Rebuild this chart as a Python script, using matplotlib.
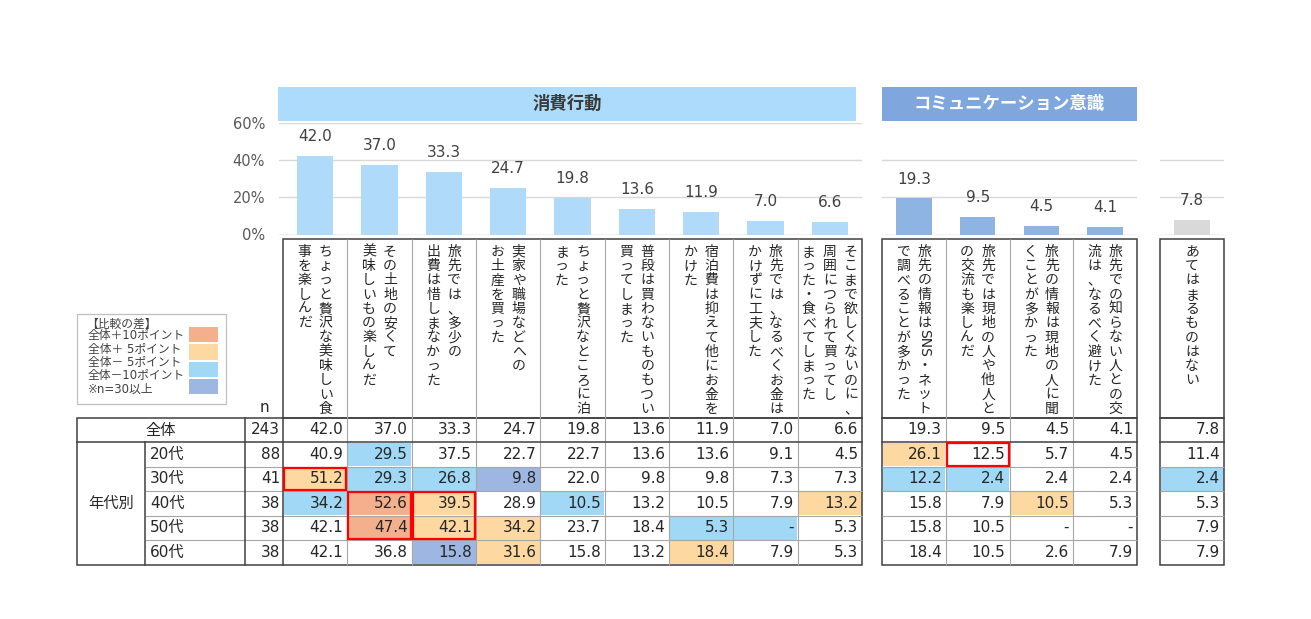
import re
import matplotlib
matplotlib.use('Agg')
import matplotlib.pyplot as plt
from matplotlib.patches import Rectangle
import numpy as np

plt.rcParams['font.family'] = ['DejaVu Sans', 'Noto Sans CJK JP']

# ---------------- DATA ----------------
section_names = ['消費行動', 'コミュニケーション意識', '']

consumer_items = [
    ['ちょっと贅沢な美味しい食', '事を楽しんだ'],
    ['その土地の安くて', '美味しいもの楽しんだ'],
    ['旅先では、多少の', '出費は惜しまなかった'],
    ['実家や職場などへの', 'お土産を買った'],
    ['ちょっと贅沢なところに泊', 'まった'],
    ['普段は買わないものもつい', '買ってしまった'],
    ['宿泊費は抑えて他にお金を', 'かけた'],
    ['旅先では、なるべくお金は', 'かけずに工夫した'],
    ['そこまで欲しくないのに、', '周囲につられて買ってし', 'まった・食べてしまった'],
]
comm_items = [
    ['旅先の情報はSNS・ネット', 'で調べることが多かった'],
    ['旅先では現地の人や他人と', 'の交流も楽しんだ'],
    ['旅先の情報は現地の人に聞', 'くことが多かった'],
    ['旅先での知らない人との交', '流は、なるべく避けた'],
]
none_items = [['あてはまるものはない']]

consumer_total = [42.0, 37.0, 33.3, 24.7, 19.8, 13.6, 11.9, 7.0, 6.6]
comm_total = [19.3, 9.5, 4.5, 4.1]
none_total = [7.8]

total_label = '全体'
group_label = '年代別'
n_total = 243
age_groups = ['20代', '30代', '40代', '50代', '60代']
n_age = [88, 41, 38, 38, 38]
# None = "-"
age_values = [
    [40.9, 29.5, 37.5, 22.7, 22.7, 13.6, 13.6, 9.1, 4.5, 26.1, 12.5, 5.7, 4.5, 11.4],
    [51.2, 29.3, 26.8, 9.8, 22.0, 9.8, 9.8, 7.3, 7.3, 12.2, 2.4, 2.4, 2.4, 2.4],
    [34.2, 52.6, 39.5, 28.9, 10.5, 13.2, 10.5, 7.9, 13.2, 15.8, 7.9, 10.5, 5.3, 5.3],
    [42.1, 47.4, 42.1, 34.2, 23.7, 18.4, 5.3, None, 5.3, 15.8, 10.5, None, None, 7.9],
    [42.1, 36.8, 15.8, 31.6, 15.8, 13.2, 18.4, 7.9, 5.3, 18.4, 10.5, 2.6, 7.9, 7.9],
]
# highlighted (red frame): (first age row, last age row, column)
red_frames = [(1, 1, 0), (2, 3, 1), (2, 3, 2), (0, 0, 10)]

legend_title = '【比較の差】'
legend_labels = ['全体＋10ポイント', '全体＋ 5ポイント', '全体－ 5ポイント', '全体－10ポイント']
legend_note = '※n=30以上'
yticks = [0, 20, 40, 60]

# ---------------- STYLE ----------------
W, H = 1311, 619
C_BAR = ['#AFDAF9', '#8DB4E2', '#D9D9D9']
C_BANNER = ['#ADDBFB', '#7FA7DE']
C_BANNER_TXT = ['#3A3A3A', 'white']
C_DIFF = {2: '#F4B08C', 1: '#FDD8A0', -1: '#A0D8F5', -2: '#9DB7E2'}
DARK = '#404040'
GRAY = '#A6A6A6'
TXT = '#262626'

fig = plt.figure(figsize=(W / 100, H / 100), dpi=100)
ov = fig.add_axes([0, 0, 1, 1])
ov.set_xlim(0, W)
ov.set_ylim(H, 0)
ov.axis('off')


def px_axes(x0, x1, y0, y1):
    a = fig.add_axes([x0 / W, 1 - y1 / H, (x1 - x0) / W, (y1 - y0) / H])
    a.patch.set_alpha(0)
    return a


# sections layout
sec_x = [(283, 862), (882, 1137), (1160, 1224)]
sec_items = [consumer_items, comm_items, none_items]
sec_tot = [consumer_total, comm_total, none_total]
col_edges = []
for (x0, x1), items in zip(sec_x, sec_items):
    col_edges.append(np.linspace(x0, x1, len(items) + 1))

Y0, Y60 = 234.5, 122.5
HDR_TOP, TBL_TOP = 238.5, 418
row_y = [418, 442, 466.5, 491, 515.5, 540, 564.5]

# ---------------- BARS ----------------
for s, ((x0, x1), items, tot) in enumerate(zip(sec_x, sec_items, sec_tot)):
    n = len(items)
    cw = (x1 - x0) / n
    ext = 4 if s == 0 else 0
    ax = px_axes(x0 - ext, x1, Y60, Y0)
    ax.set_xlim(-0.5 - ext / cw, n - 0.5)
    ax.set_ylim(0, 60)
    for sp in ax.spines.values():
        sp.set_visible(False)
    grid = [20, 40, 60] if s == 0 else [20, 40]
    for g in grid:
        ax.axhline(g, color='#D9D9D9', lw=1.0, zorder=0)
    ax.axhline(0, color='#BFBFBF', lw=1.0, zorder=0)
    ax.bar(range(n), tot, width=0.56, color=C_BAR[s], zorder=2)
    for i, v in enumerate(tot):
        ax.annotate(f'{v:.1f}', (i, v), xytext=(0, 14), textcoords='offset points',
                    ha='center', va='center', fontsize=11, color=DARK,
                    annotation_clip=False)
    ax.set_xticks([])
    if s == 0:
        ax.set_yticks(yticks)
        ax.set_yticklabels([f'{t}%' for t in yticks], fontsize=10.5, color='#595959')
        ax.tick_params(axis='y', length=0, pad=10)
    else:
        ax.set_yticks([])

# ---------------- BANNERS ----------------
banners = [(278, 856), (882, 1137)]
for k, (bx0, bx1) in enumerate(banners):
    ov.add_patch(Rectangle((bx0, 87), bx1 - bx0, 34, color=C_BANNER[k], lw=0))
    ov.text((bx0 + bx1) / 2, 104, section_names[k], ha='center', va='center',
            fontsize=12.5, fontweight='bold', color=C_BANNER_TXT[k])

# ---------------- HEADER (vertical text) ----------------
PITCH = 14.3
TOP = 243


def vertical_text(x, line):
    cur = TOP
    for tok in re.findall(r'[A-Za-z0-9]+|.', line):
        if re.match(r'[A-Za-z0-9]', tok):
            adv = 0.66 * len(tok) * PITCH
            ov.text(x, cur + adv / 2, tok, rotation=-90, ha='center', va='center',
                    rotation_mode='anchor', fontsize=10, color=TXT)
        else:
            adv = PITCH
            ov.text(x, cur + adv / 2, tok, ha='center', va='center_baseline',
                    fontsize=10, color=TXT)
        cur += adv


for s, items in enumerate(sec_items):
    edges = col_edges[s]
    for i, lines in enumerate(items):
        cx = (edges[i] + edges[i + 1]) / 2
        nl = len(lines)
        for k, line in enumerate(lines):
            x = cx + ((nl - 1) / 2 - k) * 21
            vertical_text(x, line)
    # header box
    x0, x1 = sec_x[s]
    for e in edges[1:-1]:
        ov.plot([e, e], [HDR_TOP, row_y[-1]], color=GRAY, lw=0.8, solid_capstyle='butt')
    ov.add_patch(Rectangle((x0, HDR_TOP), x1 - x0, TBL_TOP - HDR_TOP, fill=False,
                           ec=DARK, lw=1.1))

# ---------------- TABLE ----------------
blocks = [(77, 862), (882, 1137), (1160, 1224)]
for b, (x0, x1) in enumerate(blocks):
    xs = 145 if b == 0 else x0
    for yy in row_y[2:-1]:
        ov.plot([xs, x1], [yy, yy], color=GRAY, lw=0.8, solid_capstyle='butt')
    ov.plot([x0, x1], [row_y[1], row_y[1]], color=DARK, lw=1.1)
    ov.add_patch(Rectangle((x0, row_y[0]), x1 - x0, row_y[-1] - row_y[0], fill=False,
                           ec=DARK, lw=1.1))
# left part vertical lines
ov.plot([145, 145], [row_y[1], row_y[-1]], color=DARK, lw=1.1)
ov.plot([245, 245], [row_y[0], row_y[-1]], color=DARK, lw=1.1)
ov.plot([283, 283], [row_y[0], row_y[-1]], color=DARK, lw=1.1)

all_edges = [(e[i], e[i + 1]) for e in col_edges for i in range(len(e) - 1)]
total_all = consumer_total + comm_total + none_total


def diff_class(v, base):
    d = (0 if v is None else v) - base
    if d >= 10:
        return 2
    if d >= 5:
        return 1
    if d <= -10:
        return -2
    if d <= -5:
        return -1
    return 0


# total row
ymid = (row_y[0] + row_y[1]) / 2
ov.text(161, ymid, total_label, ha='center', va='center', fontsize=11, color=TXT)
ov.text(280, ymid, str(n_total), ha='right', va='center', fontsize=11, color=TXT)
for j, v in enumerate(total_all):
    ov.text(all_edges[j][1] - 4, ymid, f'{v:.1f}', ha='right', va='center',
            fontsize=11, color=TXT)

ov.text(111, (row_y[1] + row_y[-1]) / 2, group_label, ha='center', va='center',
        fontsize=11, color=TXT)
for r, (ag, nn, vals) in enumerate(zip(age_groups, n_age, age_values)):
    yt, yb = row_y[r + 1], row_y[r + 2]
    ymid = (yt + yb) / 2
    ov.text(150, ymid, ag, ha='left', va='center', fontsize=11, color=TXT)
    ov.text(280, ymid, str(nn), ha='right', va='center', fontsize=11, color=TXT)
    for j, v in enumerate(vals):
        cx0, cx1 = all_edges[j]
        c = diff_class(v, total_all[j])
        if c != 0:
            ov.add_patch(Rectangle((cx0 + 0.5, yt + 0.5), cx1 - cx0 - 1, yb - yt - 1,
                                   color=C_DIFF[c], lw=0, zorder=0.5))
        ov.text(cx1 - 4, ymid, '-' if v is None else f'{v:.1f}', ha='right',
                va='center', fontsize=11, color=TXT)

for r0, r1, j in red_frames:
    cx0, cx1 = all_edges[j]
    yt, yb = row_y[r0 + 1], row_y[r1 + 2]
    ov.add_patch(Rectangle((cx0 + 1, yt + 1), cx1 - cx0 - 2, yb - yt - 2, fill=False,
                           ec='#FF0000', lw=1.6, zorder=5))

ov.text(264, 408, 'n', ha='center', va='center', fontsize=11, color=TXT)

# ---------------- LEGEND ----------------
ov.add_patch(Rectangle((77, 314), 149, 90, fill=False, ec='#BFBFBF', lw=0.9))
ov.text(86, 324, legend_title, ha='left', va='center', fontsize=8.5, color=DARK)
ly = [336, 349.5, 362.5, 375.5]
sw = [(327, 342), (344, 360), (362, 377), (379, 394)]
for lab, yy, (s0, s1), c in zip(legend_labels, ly, sw, [2, 1, -1, -2]):
    ov.text(88, yy, lab, ha='left', va='center', fontsize=8.5, color=DARK)
    ov.add_patch(Rectangle((189, s0), 29, s1 - s0, color=C_DIFF[c], lw=0))
ov.text(88, 389, legend_note, ha='left', va='center', fontsize=8.5, color=DARK)

fig.savefig('out.png', dpi=100)
